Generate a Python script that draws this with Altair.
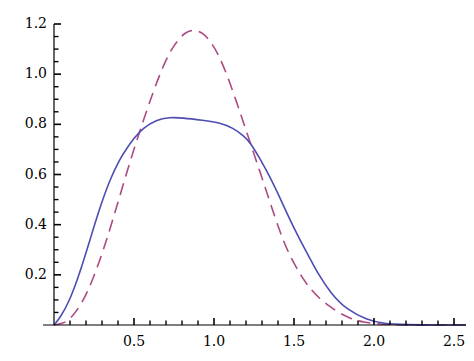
import altair as alt
import pandas as pd

# Solid (blue) curve
blue_x = [0, 0.04, 0.1, 0.16, 0.225, 0.29, 0.35, 0.41, 0.45, 0.5, 0.556, 0.64, 0.72, 0.8,
          0.93, 1.04, 1.12, 1.18, 1.225, 1.29, 1.35, 1.41, 1.46, 1.52, 1.6, 1.65, 1.725, 1.83,
          1.96, 2.06, 2.2, 2.4, 2.575]
blue_y = [0, 0.03, 0.1, 0.205, 0.34, 0.475, 0.58, 0.66, 0.70, 0.745, 0.785, 0.818, 0.828, 0.826,
          0.816, 0.806, 0.785, 0.757, 0.73, 0.66, 0.59, 0.51, 0.44, 0.36, 0.265, 0.205, 0.13, 0.06,
          0.02, 0.005, 0.001, 0, 0]

# Dashed (red) curve
red_x = [0, 0.05, 0.1, 0.18, 0.245, 0.31, 0.37, 0.43, 0.494, 0.558, 0.62, 0.683, 0.746, 0.82,
         0.88, 0.93, 0.98, 1.03, 1.08, 1.13, 1.18, 1.225, 1.29, 1.35, 1.41, 1.45, 1.5, 1.55, 1.6,
         1.66, 1.72, 1.79, 1.86, 1.93, 2.05, 2.2, 2.575]
red_y = [0, 0.005, 0.02, 0.09, 0.185, 0.30, 0.425, 0.555, 0.69, 0.815, 0.93, 1.035, 1.115, 1.17,
         1.178, 1.165, 1.13, 1.075, 1.0, 0.91, 0.815, 0.73, 0.605, 0.49, 0.375, 0.31, 0.245, 0.19,
         0.145, 0.105, 0.075, 0.045, 0.024, 0.011, 0.002, 0, 0]

x_major = [0.5, 1.0, 1.5, 2.0, 2.5]
x_minor = [round(0.1 * i, 1) for i in range(1, 26) if i % 5 != 0]
y_major = [0.2, 0.4, 0.6, 0.8, 1.0, 1.2]
y_minor = [round(0.05 * i, 2) for i in range(1, 24) if i % 4 != 0]

X_MAX = 2.575
Y_MAX = 1.2
W, H = 412, 301
FONT = "DejaVu Serif"

blue_df = pd.DataFrame({"x": blue_x, "y": blue_y})
red_df = pd.DataFrame({"x": red_x, "y": red_y})
xlab_df = pd.DataFrame({"v": x_major, "t": [f"{v:.1f}" for v in x_major]})
ylab_df = pd.DataFrame({"v": y_major, "t": [f"{v:.1f}" for v in y_major]})

xs = alt.Scale(domain=[0, X_MAX], nice=False, zero=False)
ys = alt.Scale(domain=[0, Y_MAX], nice=False, zero=False)

blue = alt.Chart(blue_df).mark_line(color="#4d4db3", strokeWidth=1.6, interpolate="basis").encode(
    x=alt.X("x:Q", scale=xs, axis=None),
    y=alt.Y("y:Q", scale=ys, axis=None),
)
red = alt.Chart(red_df).mark_line(color="#ad4a84", strokeWidth=1.6, strokeDash=[12, 7],
                                  interpolate="basis").encode(
    x=alt.X("x:Q", scale=xs, axis=None),
    y=alt.Y("y:Q", scale=ys, axis=None),
)

xline = alt.Chart(pd.DataFrame({"a": [0]})).mark_rule(color="black", strokeWidth=1.2).encode(
    x=alt.value(-11), x2=alt.value(W), y=alt.value(H))
yline = alt.Chart(pd.DataFrame({"b": [0]})).mark_rule(color="black", strokeWidth=1.2).encode(
    x=alt.value(0), y=alt.value(0), y2=alt.value(H))

xlabels = alt.Chart(xlab_df).mark_text(font=FONT, fontSize=14, color="black", align="center",
                                       baseline="middle").encode(
    x=alt.X("v:Q", scale=xs, axis=None), y=alt.value(H + 17), text="t:N")
ylabels = alt.Chart(ylab_df).mark_text(font=FONT, fontSize=14, color="black", align="right",
                                       baseline="middle").encode(
    y=alt.Y("v:Q", scale=ys, axis=None), x=alt.value(-7), text="t:N")

# inward tick marks
xmaj = alt.Chart(pd.DataFrame({"xm": x_major})).mark_rule(color="black", strokeWidth=1.6).encode(
    x=alt.X("xm:Q", scale=xs, axis=None), y=alt.value(H), y2=alt.value(H - 7))
xmin = alt.Chart(pd.DataFrame({"xn": x_minor})).mark_rule(color="black", strokeWidth=1.4).encode(
    x=alt.X("xn:Q", scale=xs, axis=None), y=alt.value(H), y2=alt.value(H - 4.5))
ymaj = alt.Chart(pd.DataFrame({"ym": y_major})).mark_rule(color="black", strokeWidth=1.6).encode(
    y=alt.Y("ym:Q", scale=ys, axis=None), x=alt.value(0), x2=alt.value(7))
ymin = alt.Chart(pd.DataFrame({"yn": y_minor})).mark_rule(color="black", strokeWidth=1.4).encode(
    y=alt.Y("yn:Q", scale=ys, axis=None), x=alt.value(0), x2=alt.value(4.5))

chart = alt.layer(red, blue, xline, yline, xlabels, ylabels, xmin, xmaj, ymin, ymaj).properties(
    width=W, height=H,
    background="white",
    autosize=alt.AutoSizeParams(type="none"),
    padding={"left": 46, "top": 16, "right": 0, "bottom": 30},
).configure_view(stroke="transparent", strokeWidth=0)

chart.save("out.html", embed_options={"renderer": "svg", "actions": False})
